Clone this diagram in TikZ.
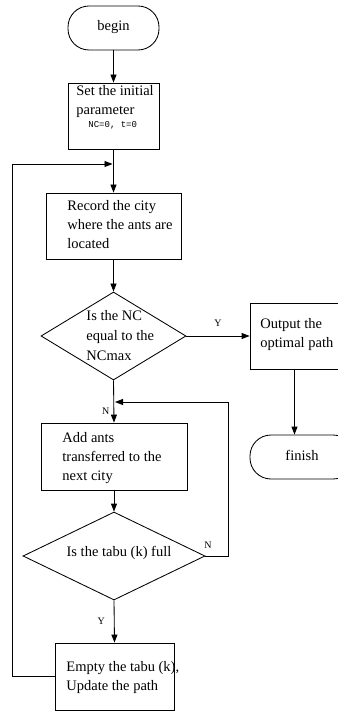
\documentclass[tikz,border=0pt]{standalone}
\usepackage{fontspec}
\setmainfont{Liberation Serif}
\newfontfamily\monofnt{Liberation Mono}
\usetikzlibrary{shapes.geometric,arrows.meta}
\begin{document}
\begin{tikzpicture}[x=1pt,y=-1pt,
  line width=0.85pt,
  box/.style={draw,rectangle,inner sep=0pt},
  term/.style={draw,rectangle,rounded corners=21pt,inner sep=0pt},
  dia/.style={draw,diamond,inner sep=0pt},
  txt/.style={font=\fontsize{14.5}{19}\selectfont,align=left,inner sep=0pt},
  lab/.style={font=\fontsize{10}{11}\selectfont,inner sep=0pt},
  arr/.style={-{Triangle[length=8pt,width=6pt]}}]
\useasboundingbox (0,0) rectangle (337,711);
% shapes
\node[term,minimum width=91pt,minimum height=44pt] (begin) at (113.5,28) {};
\node[box,minimum width=91pt,minimum height=66pt] (set) at (113.5,116) {};
\node[box,minimum width=135pt,minimum height=66pt] (record) at (113.5,226) {};
\node[dia,minimum width=145pt,minimum height=88pt] (d1) at (113.5,336) {};
\node[box,minimum width=89pt,minimum height=66pt] (output) at (294.5,336) {};
\node[term,minimum width=104pt,minimum height=44pt] (finish) at (302,457) {};
\node[box,minimum width=146pt,minimum height=67pt] (add) at (114,456.5) {};
\node[dia,minimum width=182pt,minimum height=88pt] (d2) at (114,556) {};
\node[box,minimum width=119pt,minimum height=67pt] (empty) at (114.5,676.5) {};
% texts
\node[txt] (tbegin) at (113.5,27) {begin};
\node[txt,anchor=west] (tset) at (76,102) {Set the initial\\parameter};
\node[lab,anchor=west,font=\monofnt\fontsize{9}{10}\selectfont] (tnc) at (88,125) {NC=0, t=0};
\node[txt,anchor=west] (trecord) at (67,225) {Record the city\\where the ants are\\located};
\node[txt,anchor=west,font=\fontsize{14.5}{20}\selectfont] (td1) at (86,336) {Is the NC\\equal to the\\NCmax};
\node[txt,anchor=west] (toutput) at (260,335) {Output the\\optimal path};
\node[txt] (tfinish) at (302,455) {finish};
\node[txt,anchor=west] (tadd) at (62,458) {Add ants\\transferred to the\\next city};
\node[txt] (td2) at (119,553) {Is the tabu (k) full};
\node[txt,anchor=west] (tempty) at (66,678) {Empty the tabu (k),\\Update the path};
% junctions
\coordinate (m1) at (113.5,164);
\coordinate (m2) at (114,402);
\coordinate (c1) at (228,556);
\coordinate (c2) at (228,402);
\coordinate (c3) at (12,676.5);
\coordinate (c4) at (12,164);
% connectors
\draw[arr] (begin) -- (set);
\draw[arr] (set) -- (record);
\draw[arr] (record) -- (d1);
\draw[arr] (d1.east) -- node[lab,above=9pt] (ly1) {Y} (output.west);
\draw[arr] (output.south) -- (output.south |- finish.north);
\draw[arr] (d1.south) -- node[lab,pos=0.73,left=4pt] (ln1) {N} (add.north);
\draw[arr] (add) -- (d2);
\draw[arr] (d2.south) -- node[lab,left=9pt] (ly2) {Y} (empty.north);
\draw[arr] (d2.east) -- (c1) -- (c2) -- ([xshift=1pt]m2);
\node[lab] (ln2) at (208,545) {N};
\draw[arr] (empty.west) -- (c3) -- (c4) -- ([xshift=-1pt]m1);
\end{tikzpicture}
\end{document}
